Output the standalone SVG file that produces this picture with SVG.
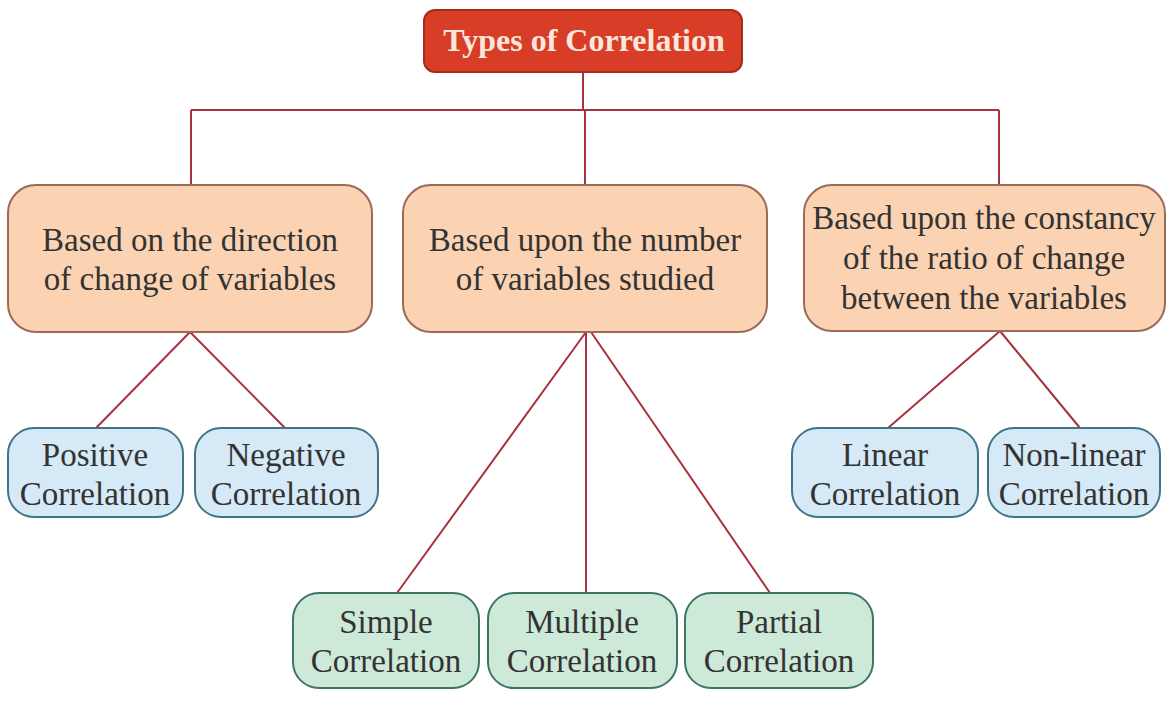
<svg xmlns="http://www.w3.org/2000/svg" width="1167" height="712" viewBox="0 0 1167 712">
<style>
.t{font-family:"Liberation Serif","Times New Roman",serif;font-size:33px;fill:#333;text-anchor:middle}
.title{font-family:"Liberation Serif","Times New Roman",serif;font-size:32px;font-weight:bold;fill:#fbe6dc;text-anchor:middle}
.cat{fill:#fbd3b3;stroke:#9c6a55;stroke-width:2}
.blue{fill:#d5e9f6;stroke:#3f7584;stroke-width:2}
.green{fill:#cde9d8;stroke:#3f7465;stroke-width:2}
.ln{stroke:#a8323e;stroke-width:2;fill:none}
</style>
<rect width="1167" height="712" fill="#ffffff"/>
<g id="connectors">
<path class="ln" d="M583 72 V110 M191 110 H999 M191 110 V185 M585 110 V185 M999 110 V185"/>
<path class="ln" d="M190 332 L96 428 M190 332 L285 428"/>
<path class="ln" d="M586 332 L397 593 M586 332 V593 M591 332 L770 593"/>
<path class="ln" d="M1000 331 L888 428 M1000 331 L1080 428"/>
</g>
<g id="title">
<rect x="424" y="10" width="318" height="62" rx="11" fill="#d83d27" stroke="#a82a1a" stroke-width="2"/>
<text class="title" x="584" y="51">Types of Correlation</text>
</g>
<g id="direction">
<rect class="cat" x="8" y="185" width="364" height="147" rx="28"/>
<text class="t" x="190" y="251">Based on the direction</text>
<text class="t" x="190" y="290">of change of variables</text>
</g>
<g id="number">
<rect class="cat" x="403" y="185" width="364" height="147" rx="28"/>
<text class="t" x="585" y="251">Based upon the number</text>
<text class="t" x="585" y="290">of variables studied</text>
</g>
<g id="constancy">
<rect class="cat" x="804" y="185" width="361" height="146" rx="28"/>
<text class="t" x="984" y="229">Based upon the constancy</text>
<text class="t" x="984" y="269">of the ratio of change</text>
<text class="t" x="984" y="309">between the variables</text>
</g>
<g id="positive">
<rect class="blue" x="8" y="428" width="175" height="89" rx="26"/>
<text class="t" x="95" y="466">Positive</text>
<text class="t" x="95" y="505">Correlation</text>
</g>
<g id="negative">
<rect class="blue" x="195" y="428" width="183" height="89" rx="26"/>
<text class="t" x="286" y="466">Negative</text>
<text class="t" x="286" y="505">Correlation</text>
</g>
<g id="linear">
<rect class="blue" x="792" y="428" width="186" height="89" rx="26"/>
<text class="t" x="885" y="466">Linear</text>
<text class="t" x="885" y="505">Correlation</text>
</g>
<g id="nonlinear">
<rect class="blue" x="988" y="428" width="172" height="89" rx="26"/>
<text class="t" x="1074" y="466">Non-linear</text>
<text class="t" x="1074" y="505">Correlation</text>
</g>
<g id="simple">
<rect class="green" x="293" y="593" width="186" height="95" rx="26"/>
<text class="t" x="386" y="633">Simple</text>
<text class="t" x="386" y="672">Correlation</text>
</g>
<g id="multiple">
<rect class="green" x="488" y="593" width="189" height="95" rx="26"/>
<text class="t" x="582" y="633">Multiple</text>
<text class="t" x="582" y="672">Correlation</text>
</g>
<g id="partial">
<rect class="green" x="685" y="593" width="188" height="95" rx="26"/>
<text class="t" x="779" y="633">Partial</text>
<text class="t" x="779" y="672">Correlation</text>
</g>
</svg>
